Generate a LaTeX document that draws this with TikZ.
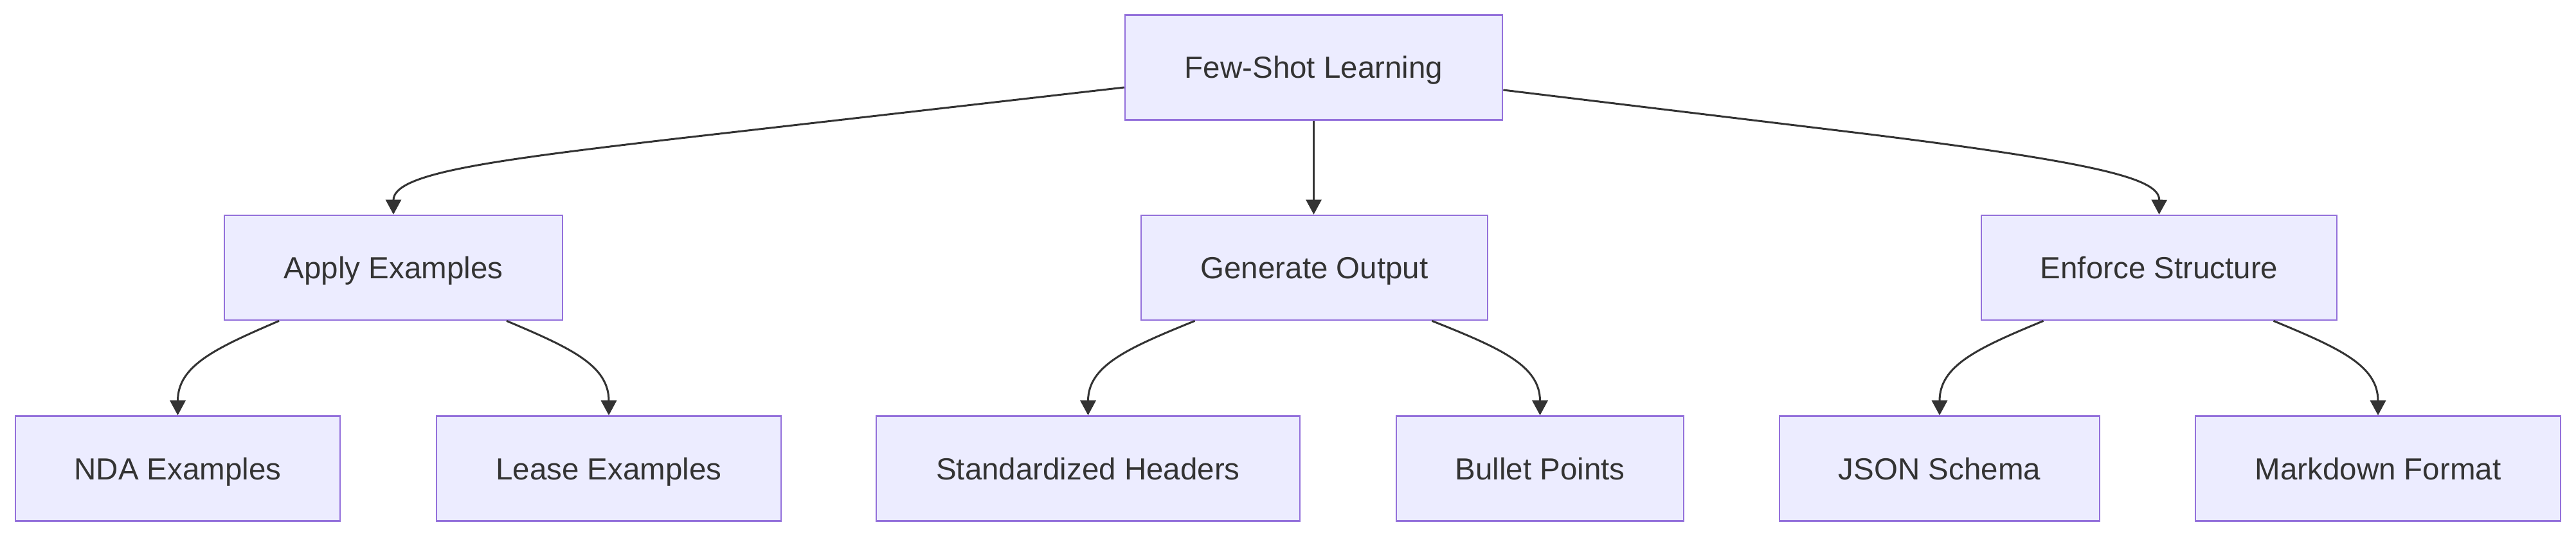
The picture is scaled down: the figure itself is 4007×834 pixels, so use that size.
\documentclass[tikz,border=0pt]{standalone}
\usepackage{fontspec}
\setmainfont{Liberation Sans}
\usetikzlibrary{arrows.meta}
\definecolor{nodefill}{HTML}{ECECFF}
\definecolor{nodeborder}{HTML}{9370DB}
\definecolor{ink}{HTML}{333333}
\begin{document}
\begin{tikzpicture}[x=1pt,y=-1pt,
  box/.style={draw=nodeborder, line width=2.6pt, fill=nodefill, text=ink,
    inner sep=0pt, minimum height=163pt, text height=34pt, text depth=0pt,
    font=\fontsize{47.5}{57}\selectfont},
  edge/.style={draw=ink, line width=3pt, -{Triangle[length=23pt,width=24pt]}}]
\useasboundingbox (0,0) rectangle (4007,834);

% level 0
\node[box, minimum width=587pt] (root) at (2043.5,105) {Few-Shot Learning};
% level 1
\node[box, minimum width=526pt] (apply) at (612,416.5) {Apply Examples};
\node[box, minimum width=539pt] (gen) at (2044.5,416.5) {Generate Output};
\node[box, minimum width=553pt] (enf) at (3358.5,416.5) {Enforce Structure};
% level 2
\node[box, minimum width=505pt] (nda) at (276.5,729) {NDA Examples};
\node[box, minimum width=536pt] (lease) at (947,729) {Lease Examples};
\node[box, minimum width=659pt] (std) at (1692.5,729) {Standardized Headers};
\node[box, minimum width=447pt] (bullet) at (2395.5,729) {Bullet Points};
\node[box, minimum width=498pt] (json) at (3017,729) {JSON Schema};
\node[box, minimum width=568pt] (md) at (3699,729) {Markdown Format};

% root edges
\draw[edge] ([yshift=-31pt]root.west) -- (1050,216) .. controls (760,250) and (612,270) .. (apply.north);
\draw[edge] (root.south) -- (root.south |- gen.north);
\draw[edge] ([yshift=-35pt]root.east) -- (2900,208) .. controls (3280,255) and (3359,280) .. (enf.north);

% child edges
\draw[edge] ([xshift=-178pt]apply.south) .. controls +(-100,43) and +(0,-77) .. (nda.north);
\draw[edge] ([xshift=176pt]apply.south) .. controls +(102,43) and +(0,-77) .. (lease.north);
\draw[edge] ([xshift=-186pt]gen.south) .. controls +(-106,43) and +(0,-77) .. (std.north);
\draw[edge] ([xshift=183pt]gen.south) .. controls +(108,43) and +(0,-77) .. (bullet.north);
\draw[edge] ([xshift=-180pt]enf.south) .. controls +(-104,43) and +(0,-77) .. (json.north);
\draw[edge] ([xshift=178pt]enf.south) .. controls +(104,43) and +(0,-77) .. (md.north);
\end{tikzpicture}
\end{document}
